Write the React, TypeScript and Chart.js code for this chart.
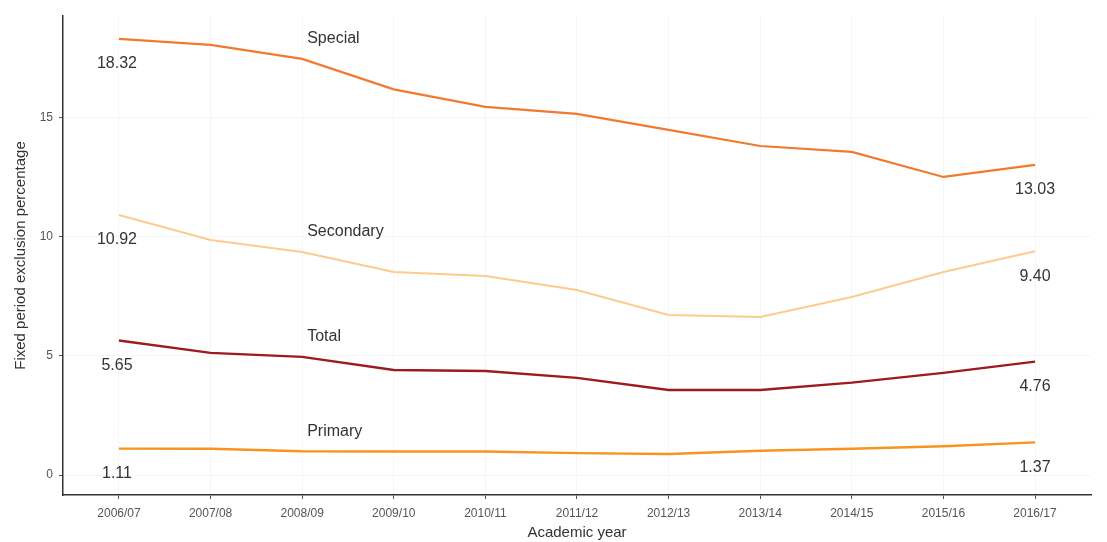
import React, { useEffect, useRef } from "react";
import { Chart, registerables } from "chart.js";

Chart.register(...registerables);

const years = ["2006/07", "2007/08", "2008/09", "2009/10", "2010/11", "2011/12", "2012/13", "2013/14", "2014/15", "2015/16", "2016/17"];
const special = [18.32, 18.07, 17.48, 16.2, 15.46, 15.17, 14.5, 13.82, 13.57, 12.52, 13.03];
const secondary = [10.92, 9.87, 9.37, 8.53, 8.36, 7.77, 6.72, 6.64, 7.48, 8.53, 9.4];
const total = [5.65, 5.13, 4.96, 4.41, 4.37, 4.08, 3.57, 3.57, 3.88, 4.29, 4.76];
const primary = [1.11, 1.1, 1.0, 0.99, 0.99, 0.92, 0.88, 1.02, 1.1, 1.21, 1.37];
const yTicks = [0, 5, 10, 15];

const FONT = "'Liberation Sans', Arial, sans-serif";

const series = [
  { name: "Special", values: special, color: "#F07A2E", width: 2.2 },
  { name: "Secondary", values: secondary, color: "#FDCB8E", width: 2 },
  { name: "Total", values: total, color: "#9B1B1E", width: 2.4 },
  { name: "Primary", values: primary, color: "#F8941D", width: 2.4 },
];

const labelPlugin = {
  id: "lineLabels",
  afterDatasetsDraw(chart: any) {
    const { ctx, scales } = chart;
    const xs = scales.x;
    const ys = scales.y;
    ctx.save();
    ctx.font = `16px ${FONT}`;
    ctx.fillStyle = "#333333";
    ctx.textBaseline = "middle";
    series.forEach((s) => {
      const nx = xs.getPixelForValue(2);
      const ny = ys.getPixelForValue(s.values[2]);
      ctx.textAlign = "left";
      ctx.fillText(s.name, nx + 5, ny - 20);
      const sx = xs.getPixelForValue(0);
      const sy = ys.getPixelForValue(s.values[0]);
      ctx.textAlign = "center";
      ctx.fillText(s.values[0].toFixed(2), sx - 2, sy + 25);
      const last = s.values.length - 1;
      const ex = xs.getPixelForValue(last);
      const ey = ys.getPixelForValue(s.values[last]);
      ctx.fillText(s.values[last].toFixed(2), ex, ey + 25);
    });
    ctx.restore();
  },
};

export default function App() {
  const ref = useRef<HTMLCanvasElement | null>(null);
  useEffect(() => {
    document.body.style.margin = "0";
    const canvas = ref.current;
    if (!canvas) return;
    const chart = new Chart(canvas, {
      type: "line",
      data: {
        datasets: series.map((s) => ({
          label: s.name,
          data: s.values.map((v, i) => ({ x: i, y: v })),
          borderColor: s.color,
          backgroundColor: s.color,
          borderWidth: s.width,
          pointRadius: 0,
          tension: 0,
          fill: false,
        })),
      },
      options: {
        animation: false,
        responsive: false,
        maintainAspectRatio: false,
        layout: { padding: { left: 12, right: 16, top: 16, bottom: 0 } },
        plugins: { legend: { display: false }, tooltip: { enabled: false } },
        scales: {
          x: {
            type: "linear",
            min: -0.611,
            max: 10.611,
            afterFit: (scale: any) => {
              scale.height = 47;
            },
            ticks: {
              stepSize: 1,
              includeBounds: false,
              autoSkip: false,
              maxRotation: 0,
              color: "#555555",
              font: { family: FONT, size: 12 },
              padding: 7,
              callback: (v: any) => years[v as number] ?? "",
            },
            grid: { color: "#f6f6f6", tickColor: "#555555", tickLength: 4, lineWidth: 1 },
            border: { color: "#333333", width: 1.5 },
            title: {
              display: true,
              text: "Academic year",
              color: "#333333",
              font: { family: FONT, size: 15 },
              padding: { top: 5, bottom: 0 },
            },
          },
          y: {
            type: "linear",
            min: -0.84,
            max: 19.28,
            afterFit: (scale: any) => {
              scale.width = 51;
            },
            afterBuildTicks: (scale: any) => {
              scale.ticks = yTicks.map((v) => ({ value: v }));
            },
            ticks: {
              color: "#555555",
              font: { family: FONT, size: 12 },
              padding: 6,
            },
            grid: { color: "#f6f6f6", tickColor: "#555555", tickLength: 4, lineWidth: 1 },
            border: { color: "#333333", width: 1.5 },
            title: {
              display: true,
              text: "Fixed period exclusion percentage",
              color: "#333333",
              font: { family: FONT, size: 15 },
              padding: { top: 0, bottom: 2 },
            },
          },
        },
      },
      plugins: [labelPlugin],
    } as any);
    return () => chart.destroy();
  }, []);
  return (
    <div style={{ position: "absolute", left: 0, top: 0, width: 1107, height: 542, background: "#ffffff" }}>
      <canvas ref={ref} width={1107} height={542} style={{ display: "block" }} />
    </div>
  );
}
